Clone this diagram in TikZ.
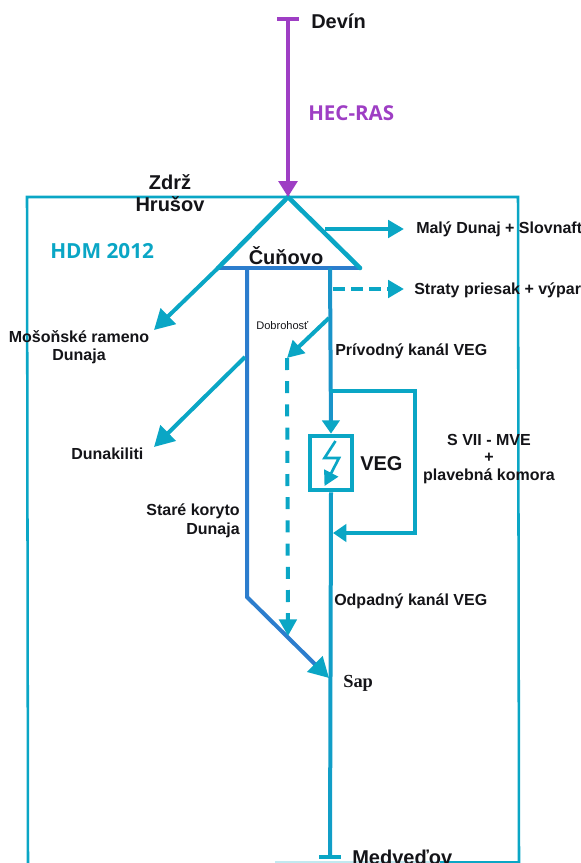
\documentclass[tikz,border=0pt]{standalone}
\usepackage{fontspec}
\setmainfont{Liberation Sans}
\newfontfamily\hdmfont{Open Sans}
\newfontfamily\sapfont{Liberation Serif}
\usetikzlibrary{arrows.meta}
\definecolor{hdmcyan}{RGB}{10,166,197}
\definecolor{hdmblue}{RGB}{44,125,205}
\definecolor{hecpurple}{RGB}{158,62,196}
\definecolor{hdmink}{RGB}{20,20,24}
\tikzset{
  lbl/.style={font=\fontsize{12}{13}\selectfont\bfseries,text=hdmink,inner sep=0pt,align=center},
  biglbl/.style={lbl,font=\fontsize{15}{16.5}\selectfont\bfseries},
  head/.style={-{Triangle[length=#1,width=13pt,color=hdmcyan]}},
  bighead/.style={-{Triangle[length=15pt,width=16pt,color=hdmcyan]}},
  flow/.style={hdmcyan,line width=3pt,head=#1},
  flow/.default=12pt,
  seep/.style={flow,dash pattern=on 9pt off 4.5pt},
  channel/.style={hdmblue,line width=3pt},
  boundary/.style={hdmcyan,line width=1.9pt}
}
\begin{document}
\begin{tikzpicture}[x=.75pt,y=-.75pt]
  \useasboundingbox (0,0) rectangle (581,863);
  % model boundary
  \coordinate (boxnw) at (27,197);
  \coordinate (boxne) at (518,197);
  \coordinate (boxsw) at (28,863);
  \coordinate (boxse) at (519,863);
  \draw[boundary] (boxsw) -- (boxnw) -- (boxne) -- (boxse);
  \coordinate (floorw) at (275,862);
  \coordinate (floorm) at (440,862);
  \coordinate (floore) at (519,862);
  \draw[hdmcyan!25,line width=1.5pt] (floorw) -- (floorm);
  \draw[boundary] (floorm) -- (floore);

  % reservoir
  \coordinate (apex) at (288,197);
  \coordinate (resl) at (218,268);
  \coordinate (resr) at (360,268);
  \draw[channel,line cap=round] (resl) -- (resr);
  \draw[hdmcyan,line width=3.4pt,line cap=round,line join=miter] (resl) -- (apex) -- (resr);

  % Devin inflow
  \coordinate (devin) at (288,19);
  \coordinate (devinl) at (277,19);
  \coordinate (devinr) at (299,19);
  \draw[hecpurple,line width=3pt] (devinl) -- (devinr);
  \draw[hecpurple,line width=3pt,-{Triangle[length=12pt,width=14pt]}] (devin) -- (apex);

  % power plant
  \node[draw=hdmcyan,line width=3pt,minimum width=32pt,minimum height=41pt,inner sep=0pt] (veg) at (331,463) {};
  \coordinate (bolta) at (335.5,441);
  \coordinate (boltb) at (324.5,458);
  \coordinate (boltc) at (339,458);
  \coordinate (boltd) at (324.5,486);
  \draw[hdmcyan,line width=2pt,-{Triangle[length=11pt,width=11.5pt]}] (bolta) -- (boltb) -- (boltc) -- (boltd);

  % channels
  \coordinate (oldtop) at (247,268);
  \coordinate (oldbend) at (247,597);
  \coordinate (sap) at (329,678);
  \coordinate (maintop) at (330,268);
  \coordinate (medve) at (330,857);
  \coordinate (medvel) at (319,857);
  \coordinate (medver) at (341,857);
  \draw[channel,bighead] (oldtop) -- (oldbend) -- (sap);
  \draw[channel,draw=hdmcyan!55!hdmblue,head=10pt] (maintop) -- (veg.north);
  \draw[channel,draw=hdmcyan!80!hdmblue] (veg.south) -- (medve);
  \draw[hdmcyan,line width=3pt] (medvel) -- (medver);

  % offtakes
  \coordinate (maly) at (325,229);
  \coordinate (malyend) at (404,229);
  \coordinate (straty) at (333,289);
  \coordinate (stratyend) at (404,289);
  \coordinate (moson) at (154,330);
  \coordinate (duna) at (245,357);
  \coordinate (dunaend) at (154,447);
  \coordinate (dobro) at (329,318);
  \coordinate (dobroend) at (287,358);
  \coordinate (seepend) at (288,636);
  \draw[flow] (maly) -- (malyend);
  \draw[seep] (straty) -- (stratyend);
  \draw[flow,bighead] (resl) -- (moson);
  \draw[flow,bighead] (duna) -- (dunaend);
  \draw[flow=12.5pt] (dobro) -- (dobroend);
  \draw[seep,dash pattern=on 9pt off 8.4pt,head=12.5pt] (dobroend) -- (seepend);

  % S VII bypass
  \coordinate (bypa) at (330,391);
  \coordinate (bypb) at (415,391);
  \coordinate (bypc) at (415,533);
  \coordinate (bypd) at (333,533);
  \draw[flow=10pt] (bypa) -- (bypb) -- (bypc) -- (bypd);

  % labels
  \node[biglbl,anchor=west] (devintxt) at (311,21) {Devín};
  \node[lbl,anchor=west,text=hecpurple,font=\hdmfont\fontsize{15.4}{16}\selectfont\bfseries] (hectxt) at (308,113) {HEC-RAS};
  \node[biglbl] (zdrz) at (170,193) {Zdrž\\Hrušov};
  \node[lbl,anchor=west,text=hdmcyan,font=\hdmfont\fontsize{15.6}{16}\selectfont\bfseries] (hdm) at (50,251) {HDM 2012};
  \node[biglbl] (cunovo) at (286,256) {Čuňovo};
  \node[lbl,anchor=west] (malytxt) at (416,229) {Malý Dunaj + Slovnaft};
  \node[lbl,anchor=west] (stratytxt) at (414,290) {Straty priesak + výpar};
  \node[lbl,anchor=west,font=\fontsize{8.3}{9}\selectfont] (dobrotxt) at (256,326) {Dobrohosť};
  \node[lbl,anchor=west] (privod) at (335,351) {Prívodný kanál VEG};
  \node[lbl,font=\fontsize{12}{13.3}\selectfont\bfseries] (svii) at (489,459) {S VII - MVE\\+\\plavebná komora};
  \node[biglbl,anchor=west] (vegtxt) at (360,464) {VEG};
  \node[lbl,anchor=east,align=right,font=\fontsize{12}{14}\selectfont\bfseries] (stare) at (240,521) {Staré koryto\\Dunaja};
  \node[lbl,anchor=west] (odpad) at (334,601) {Odpadný kanál VEG};
  \node[lbl,anchor=west,font=\sapfont\fontsize{13.8}{14}\selectfont\bfseries] (saptxt) at (343,683) {Sap};
  \node[biglbl,anchor=west] (medvetxt) at (352,857) {Medveďov};
  \node[lbl,font=\fontsize{12}{13.5}\selectfont\bfseries] (mosontxt) at (79,347) {Mošoňské rameno\\Dunaja};
  \node[lbl,anchor=west] (dunatxt) at (71,454) {Dunakiliti};
\end{tikzpicture}
\end{document}
